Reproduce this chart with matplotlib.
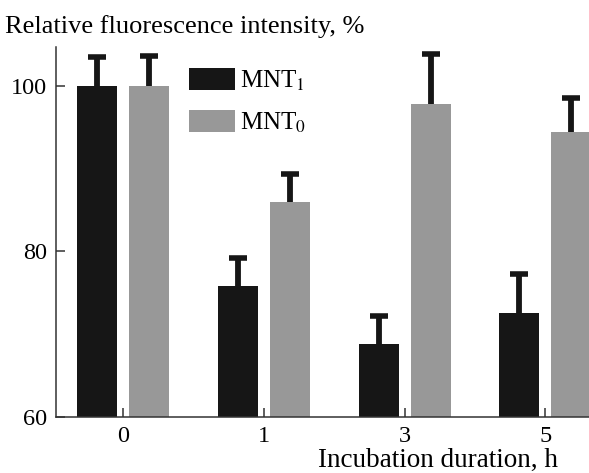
import numpy as np
import matplotlib
matplotlib.use("Agg")
import matplotlib.pyplot as plt

plt.rcParams['font.family'] = ['Liberation Serif', 'DejaVu Serif']
plt.rcParams['mathtext.fontset'] = 'stix'

# data
durations = ['0', '1', '3', '5']
mnt1 = [100.0, 75.8, 68.75, 72.5]
mnt1_err = [3.5, 3.4, 3.45, 4.75]
mnt0 = [100.0, 86.0, 97.8, 94.4]
mnt0_err = [3.6, 3.3, 6.0, 4.1]

black = '#161616'
grey = '#989898'

fig = plt.figure(figsize=(5.89, 4.73), dpi=100)
ax = fig.add_axes([0.0946, 0.119, 0.9054, 0.7816])

x = np.arange(len(durations))
w = 0.285
off = 0.185

err_kw = dict(ecolor=black, elinewidth=4.2, capsize=6.4, capthick=4.0)
bars1 = ax.bar(x - off, mnt1, w, color=black, label='MNT$_1$',
               yerr=[np.zeros(len(mnt1)), mnt1_err], error_kw=err_kw, zorder=2)
bars0 = ax.bar(x + off, mnt0, w, color=grey, label='MNT$_0$',
               yerr=[np.zeros(len(mnt0)), mnt0_err], error_kw=err_kw, zorder=2)
# only the upper whisker is drawn in the original
for b in (bars1, bars0):
    caps = b.errorbar.lines[1]
    caps[0].set_visible(False)

ax.set_ylim(60, 104.7)
ax.set_xlim(-0.48, 3.31)
ax.set_yticks([60, 80, 100])
ax.set_xticks(x)
ax.set_xticklabels(durations)

for s in ['top', 'right']:
    ax.spines[s].set_visible(False)
for s in ['left', 'bottom']:
    ax.spines[s].set_linewidth(1.1)
    ax.spines[s].set_color('#333333')

ax.tick_params(axis='y', direction='in', length=6.5, width=1.1,
               color='#333333', labelsize=17.5, pad=6.5)
ax.tick_params(axis='x', direction='in', length=6.5, width=1.1,
               color='#333333', labelsize=17.5, pad=6.5)

fig.text(0.008, 0.93, 'Relative fluorescence intensity, %', fontsize=19,
         ha='left', va='baseline')
fig.text(0.947, 0.0133, 'Incubation duration, h', fontsize=19.5,
         ha='right', va='baseline')

ax.legend(loc='upper left', bbox_to_anchor=(0.321, 0.856),
          bbox_transform=fig.transFigure, frameon=False, fontsize=18,
          handlelength=1.84, handleheight=0.96, handletextpad=0.2,
          labelspacing=0.7, borderpad=0, borderaxespad=0)

fig.savefig('out.png', dpi=100)
